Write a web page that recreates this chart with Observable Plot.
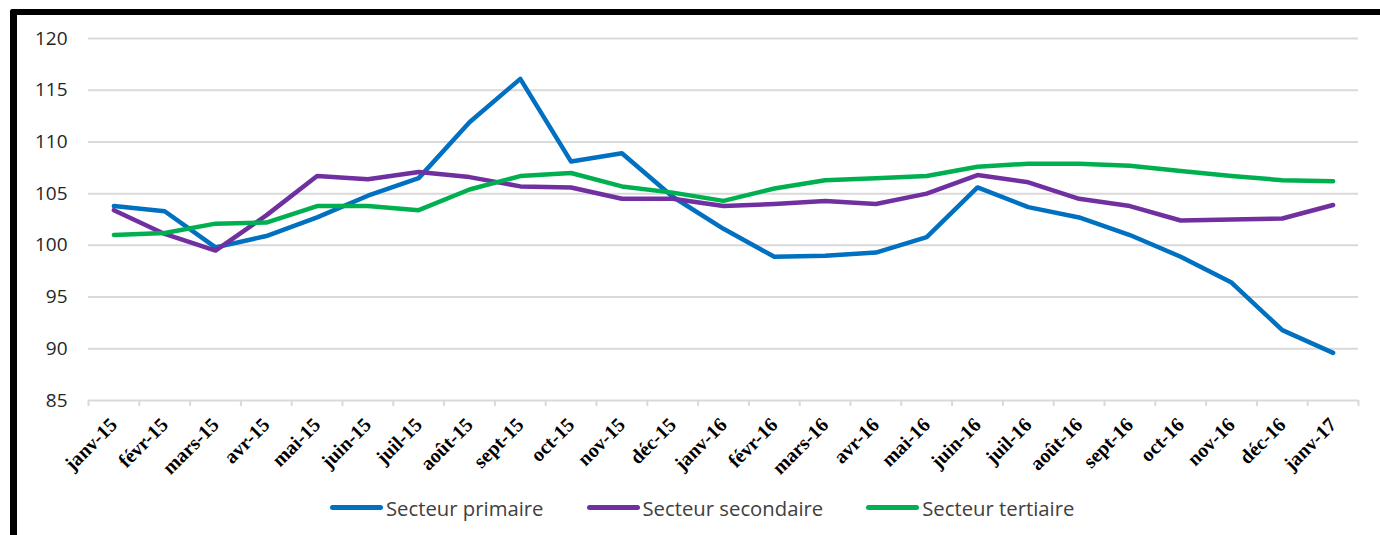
<!DOCTYPE html>
<html>
<head>
<meta charset="utf-8">
<script src="https://cdn.jsdelivr.net/npm/d3@7"></script>
<script src="https://cdn.jsdelivr.net/npm/@observablehq/plot@0.6"></script>
<style>
  html, body { margin: 0; padding: 0; background: #fff; width: 1380px; height: 535px; overflow: hidden; }
  #wrap { position: relative; width: 1380px; height: 535px; }
  #frame { position: absolute; left: 10px; top: 9px; width: 1400px; height: 600px;
           border-top: 6px solid #000; border-left: 7px solid #000; border-top-left-radius: 3px; box-sizing: border-box; }
  #chart { position: absolute; left: 0; top: 0; }
  #legend { position: absolute; left: 330px; top: 490px; height: 35px; display: flex; align-items: center;
            font-family: "Open Sans", sans-serif; font-size: 20.3px; color: #404040; }
  .item { display: flex; align-items: center; margin-right: 43px; }
  .sw { width: 53px; height: 5px; border-radius: 3px; margin-right: 3px; }
</style>
</head>
<body>
<div id="wrap">
  <div id="frame"></div>
  <div id="chart"></div>
  <div id="legend"></div>
</div>
<script>
const months = ["janv-15","févr-15","mars-15","avr-15","mai-15","juin-15","juil-15","août-15","sept-15","oct-15","nov-15","déc-15",
                "janv-16","févr-16","mars-16","avr-16","mai-16","juin-16","juil-16","août-16","sept-16","oct-16","nov-16","déc-16","janv-17"];
const primaire   = [103.8,103.3,99.8,100.9,102.7,104.8,106.5,111.9,116.1,108.1,108.9,104.7,101.6,98.9,99.0,99.3,100.8,105.6,103.7,102.7,101.0,98.9,96.4,91.8,89.6];
const secondaire = [103.4,101.1,99.5,102.9,106.7,106.4,107.1,106.6,105.7,105.6,104.5,104.5,103.8,104.0,104.3,104.0,105.0,106.8,106.1,104.5,103.8,102.4,102.5,102.6,103.9];
const tertiaire  = [101.0,101.2,102.1,102.2,103.8,103.8,103.4,105.4,106.7,107.0,105.7,105.1,104.3,105.5,106.3,106.5,106.7,107.6,107.9,107.9,107.7,107.2,106.7,106.3,106.2];
const seriesNames = ["Secteur primaire","Secteur secondaire","Secteur tertiaire"];
const seriesColors = ["#0070C0","#7030A0","#00B050"];
const yTicks = [85,90,95,100,105,110,115,120];

const allSeries = [primaire, secondaire, tertiaire];
const idx = months.map((_, i) => i);
const bounds = months.map((_, i) => i - 0.5).concat([months.length - 0.5]);

const marks = [
  Plot.gridY(yTicks, {stroke: "#d9d9d9", strokeOpacity: 1, strokeWidth: 2}),
  Plot.axisY({ticks: yTicks, tickSize: 0, tickPadding: 21, fontSize: 19, fontFamily: "Open Sans", fill: "#262626", label: null}),
  Plot.axisX({ticks: bounds, tickSize: 6, tickFormat: () => "", stroke: "#d9d9d9", strokeWidth: 2, strokeOpacity: 1, label: null}),
  Plot.axisX({ticks: idx, tickSize: 0, tickPadding: 21, tickRotate: -45, tickFormat: i => months[i],
              fontSize: 20, fontWeight: "bold", fontFamily: "Liberation Serif", fill: "#000", label: null})
];
allSeries.forEach((s, k) => {
  const rows = s.map((v, i) => ({i, v}));
  marks.push(Plot.line(rows, {x: "i", y: "v", stroke: seriesColors[k], strokeWidth: 4.5,
                              strokeLinejoin: "round", strokeLinecap: "round"}));
});

const chart = Plot.plot({
  width: 1380,
  height: 490,
  marginLeft: 88,
  marginRight: 22,
  marginTop: 38,
  marginBottom: 90,
  style: {background: "transparent", overflow: "visible"},
  x: {type: "linear", domain: [-0.5, months.length - 0.5], axis: null},
  y: {domain: [85, 120], axis: null},
  marks
});
document.getElementById("chart").appendChild(chart);

const leg = document.getElementById("legend");
seriesNames.forEach((n, k) => {
  const it = document.createElement("div");
  it.className = "item";
  const sw = document.createElement("div");
  sw.className = "sw";
  sw.style.background = seriesColors[k];
  const t = document.createElement("span");
  t.textContent = n;
  it.appendChild(sw); it.appendChild(t);
  leg.appendChild(it);
});
</script>
</body>
</html>
